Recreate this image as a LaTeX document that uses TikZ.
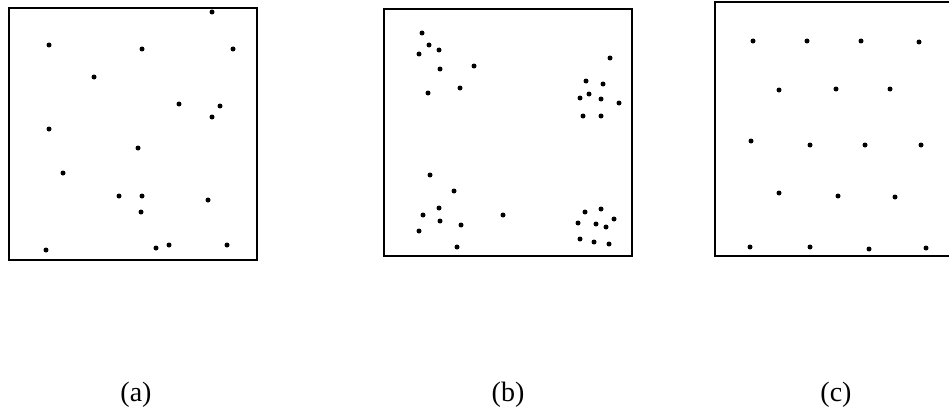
\documentclass[tikz,border=0pt]{standalone}
\usepackage{fontspec}
\setmainfont{Liberation Serif}
\usepackage{tikz}
\usetikzlibrary{positioning}

\begin{document}
\begin{tikzpicture}[
        x=1pt, y=-1pt,
        panel/.style={draw, line width=2.8pt},
        pt/.style={fill=black},
        caption/.style={font=\fontsize{28}{32}\selectfont, inner sep=0pt}
    ]
        \useasboundingbox (0,0) rectangle (949,412);

        % (a) random
        \draw[panel] (9,8) rectangle (257,260);
        \foreach \px/\py in {49/45, 142/49, 212/12, 233/49, 94/77, 179/104, 220/106,
                             212/117, 49/129, 138/148, 63/173, 119/196, 142/196,
                             141/212, 208/200, 46/250, 156/248, 169/245, 227/245}
            \fill[pt] (\px,\py) circle (2.5);

        % (b) clustered
        \draw[panel] (384,9) rectangle (632,256);
        \foreach \px/\py in {422/33, 429/45, 439/50, 419/54, 440/69, 474/66, 460/88, 428/93,
                             610/58, 586/81, 603/84, 580/98, 589/94, 601/99, 619/103, 583/116, 601/116,
                             430/175, 454/191, 439/208, 423/215, 440/221, 461/225, 419/231, 457/247, 503/215,
                             585/212, 601/209, 578/223, 596/224, 614/219, 606/227, 580/239, 594/242, 609/244}
            \fill[pt] (\px,\py) circle (2.5);

        % (c) regular
        \draw[panel] (715,2) rectangle (960,256);
        \foreach \px/\py in {753/41, 807/41, 861/41, 919/42,
                             779/90, 836/89, 890/89,
                             751/141, 810/145, 865/145, 921/145,
                             779/193, 838/196, 895/197,
                             750/247, 810/247, 869/249, 926/248}
            \fill[pt] (\px,\py) circle (2.5);

        \node[caption] (capA) at (136,395) {(a)};
        \node[caption] (capB) at (508,395) {(b)};
        \node[caption] (capC) at (836,395) {(c)};
    \end{tikzpicture}
\end{document}
